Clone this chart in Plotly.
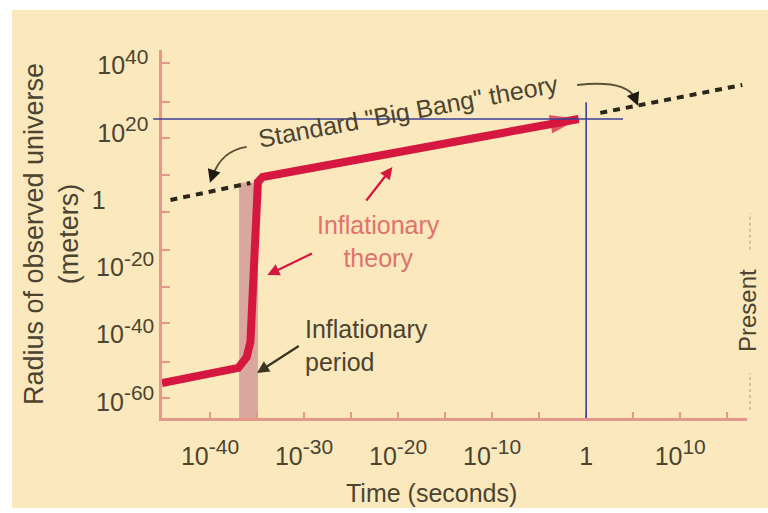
import plotly.graph_objects as go

# ---------------- data (log10 units) ----------------
# time axis: log10(seconds), radius axis: log10(meters)
SUP = "<sup><span style='font-size:21px'>{}</span></sup>"
NB = "\u00a0"

time_ticks_log10 = [-40, -30, -20, -10, 0, 10]
time_tick_exponents = ["-40", "-30", "-20", "-10", None, "10"]
time_tick_labels = ["10" + SUP.format(e) if e else "1" for e in time_tick_exponents]
time_tick_marks_log10 = [-40, -35, -30, -25, -20, -15, -10, -5, 0, 5, 10, 15]

radius_ticks_log10 = [-60, -40, -20, 0, 20, 40]
radius_tick_exponents = ["-60", "-40", "-20", None, "20" + NB, "40" + NB]
radius_tick_labels = ["10" + SUP.format(e) if e else "1" + NB * 7 for e in radius_tick_exponents]
radius_tick_marks_log10 = [40.7, 29.1, 18.4, 7.4, -3.6, -14.9, -25.9, -36.6, -48.1, -58.9]

# inflationary theory curve
inflation_time_log10 = [-45.1, -37.0, -36.1, -35.7, -34.9, -34.4, -0.8]
inflation_radius_log10 = [-54.4, -49.9, -46.7, -42.2, 5.4, 6.85, 24.1]

# standard "Big Bang" theory (visible dashed pieces)
bigbang_time_log10 = [-44.2, -35.7, None, 1.5, 16.6]
bigbang_radius_log10 = [0.0, 5.05, None, 25.9, 34.2]

# inflationary period band
inflation_period_log10 = [-36.9, -34.9]
inflation_period_top_log10 = 5.1

# present-day reference lines
now_time_log10 = 0.0
now_radius_log10 = 24.1
now_line_top_log10 = 29.1

x_range = [-45.1, 17.1]
y_range = [-64.8, 44.6]

# ---------------- styles ----------------
FONT = "Liberation Sans, Arial, Helvetica, sans-serif"
TEXT = "#4b4430"
CREAM = "#fce8bd"
AXIS = "#e39a8c"
RED = "#d6173f"
RED_TXT = "#e2736a"
BAND = "#d9a79b"
BLUE = "#3b3f9c"
DASH = "#2b2619"

fig = go.Figure()

fig.add_trace(go.Scatter(
    x=bigbang_time_log10, y=bigbang_radius_log10, mode="lines",
    line=dict(color=DASH, width=4, dash="7px,6px"), hoverinfo="skip"))

fig.add_trace(go.Scatter(
    x=inflation_time_log10, y=inflation_radius_log10, mode="lines",
    line=dict(color=RED, width=8), hoverinfo="skip"))

fig.add_trace(go.Scatter(
    x=inflation_time_log10[-2:], y=inflation_radius_log10[-2:], mode="markers",
    marker=dict(symbol="arrow", size=[0, 30], angleref="previous", color=RED,
                line=dict(width=0)),
    hoverinfo="skip", cliponaxis=False))

shapes = [
    # cream background
    dict(type="rect", xref="paper", yref="paper", x0=-0.2564, x1=1.04, y0=-0.2446, y1=1.1087,
         fillcolor=CREAM, line=dict(width=0), layer="below"),
    # inflationary period band
    dict(type="rect", xref="x", yref="y", x0=inflation_period_log10[0], x1=inflation_period_log10[1],
         y0=y_range[0], y1=inflation_period_top_log10, fillcolor=BAND, line=dict(width=0), layer="below"),
    # blue reference lines
    dict(type="line", xref="paper", yref="y", x0=-0.015, x1=0.788,
         y0=now_radius_log10, y1=now_radius_log10, line=dict(color=BLUE, width=1.6)),
    dict(type="line", xref="x", yref="y", x0=now_time_log10, x1=now_time_log10,
         y0=y_range[0], y1=now_line_top_log10, line=dict(color=BLUE, width=1.6)),
    # curved arrow tail (right)
    dict(type="path", xref="x", yref="y",
         path="M -0.96,34.2 Q 4.15,35.7 5.1,30.6", line=dict(color="#5a5236", width=2)),
    # curved arrow tail (left)
    dict(type="path", xref="x", yref="y",
         path="M -36.1,15.8 Q -38.8,14.6 -39.7,7.2", line=dict(color="#5a5236", width=2)),
    # dotted "Present" marks
    dict(type="line", xref="paper", yref="paper", x0=1.005, x1=1.005, y0=0.457, y1=0.557,
         line=dict(color="#c4b592", width=1.5, dash="dot")),
    dict(type="line", xref="paper", yref="paper", x0=1.005, x1=1.005, y0=0.022, y1=0.122,
         line=dict(color="#c4b592", width=1.5, dash="dot")),
]

annotations = [
    dict(x=-18.9, y=26.4, xref="x", yref="y", text='Standard "Big Bang" theory',
         textangle=-10.5, showarrow=False, font=dict(size=25, color=TEXT)),
    dict(x=-22.1, y=-12.3, xref="x", yref="y", text="Inflationary<br>theory",
         showarrow=False, font=dict(size=25, color=RED_TXT)),
    dict(x=-30.1, y=-43.3, xref="x", yref="y", text="Inflationary<br>period", align="left",
         xanchor="left", showarrow=False, font=dict(size=25, color=TEXT)),
    dict(x=1.0017, y=0.2935, xref="paper", yref="paper", text="Present", textangle=-90,
         xanchor="center", yanchor="middle",
         showarrow=False, font=dict(size=24, color=TEXT)),
    dict(x=0.46, y=-0.204, xref="paper", yref="paper", text="Time (seconds)",
         xanchor="center", yanchor="middle",
         showarrow=False, font=dict(size=25, color=TEXT)),
    # arrows
    dict(x=-20.6, y=9.8, ax=-23.5, ay=-0.6, xref="x", yref="y", axref="x", ayref="y",
         text="", showarrow=True, arrowhead=2, arrowsize=1.1, arrowwidth=2.2, arrowcolor=RED),
    dict(x=-33.9, y=-22.3, ax=-29.0, ay=-15.7, xref="x", yref="y", axref="x", ayref="y",
         text="", showarrow=True, arrowhead=2, arrowsize=1.1, arrowwidth=2.2, arrowcolor=RED),
    dict(x=-35.0, y=-51.4, ax=-30.4, ay=-43.1, xref="x", yref="y", axref="x", ayref="y",
         text="", showarrow=True, arrowhead=2, arrowsize=1.1, arrowwidth=2.2, arrowcolor="#3a3522"),
    dict(x=-40.0, y=5.1, ax=-39.7, ay=7.6, xref="x", yref="y", axref="x", ayref="y",
         text="", showarrow=True, arrowhead=2, arrowsize=1.1, arrowwidth=2.4, arrowcolor="#1f1b10"),
    dict(x=5.5, y=28.0, ax=5.1, ay=30.8, xref="x", yref="y", axref="x", ayref="y",
         text="", showarrow=True, arrowhead=2, arrowsize=1.1, arrowwidth=2.4, arrowcolor="#1f1b10"),
]

fig.update_layout(
    template="none",
    width=768, height=513,
    margin=dict(l=162, r=21, t=50, b=95, autoexpand=False),
    paper_bgcolor="white",
    plot_bgcolor="rgba(0,0,0,0)",
    showlegend=False,
    font=dict(family=FONT, color=TEXT, size=24),
    shapes=shapes,
    annotations=annotations,
)

fig.update_xaxes(
    range=x_range, tickmode="array", tickvals=time_ticks_log10, ticktext=time_tick_labels,
    ticks="inside", ticklen=6, tickwidth=2, tickcolor=AXIS,
    minor=dict(tickmode="array", tickvals=time_tick_marks_log10, ticks="inside",
               ticklen=6, tickwidth=2, tickcolor=AXIS, showgrid=False),
    showline=True, linecolor=AXIS, linewidth=2.5, showgrid=False, zeroline=False,
    tickfont=dict(size=25, color=TEXT), ticklabelstandoff=14, automargin=False,
)

fig.update_yaxes(
    range=y_range, tickmode="array", tickvals=radius_ticks_log10, ticktext=radius_tick_labels,
    ticks="", minor=dict(tickmode="array", tickvals=radius_tick_marks_log10, ticks="inside",
                         ticklen=8, tickwidth=2, tickcolor=AXIS, showgrid=False),
    showline=True, linecolor=AXIS, linewidth=2.5, showgrid=False, zeroline=False,
    tickfont=dict(size=25, color=TEXT), ticklabelstandoff=0, automargin=False,
    title=dict(text="Radius of observed universe<br>(meters)", font=dict(size=27, color=TEXT),
               standoff=6),
)

fig.write_html("out.html", config={"displayModeBar": False},
               post_script="document.body.style.margin='0px';")
